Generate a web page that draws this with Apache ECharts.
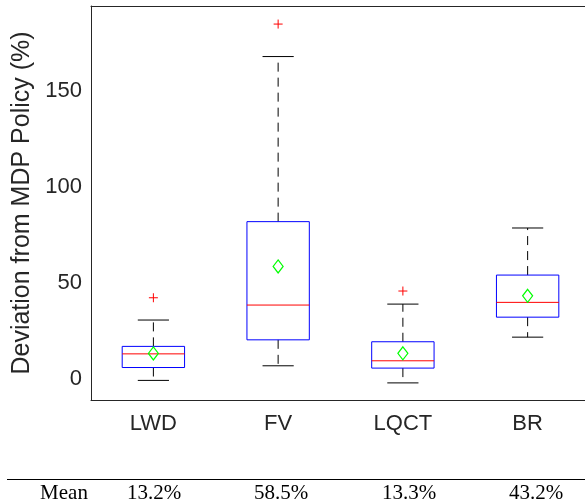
<!DOCTYPE html>
<html>
<head>
<meta charset="utf-8">
<script src="https://cdn.jsdelivr.net/npm/echarts@6/dist/echarts.min.js"></script>
<style>html,body{margin:0;padding:0;background:#fff;}#c{width:585px;height:503px;}</style>
</head>
<body>
<div id="c"></div>
<script>
const categories = ['LWD', 'FV', 'LQCT', 'BR'];
const whiskerLow = [-0.8, 6.8, -2.1, 21.7];
const q1 = [5.9, 20.3, 5.6, 32.1];
const median = [13.0, 38.4, 9.4, 39.8];
const q3 = [16.9, 81.8, 19.3, 54.0];
const whiskerHigh = [30.6, 167.7, 38.9, 78.5];
const means = [13.2, 58.5, 13.3, 43.2];
const outliers = [[0, 42.2], [1, 184.6], [2, 45.7]];
const yTicks = [0, 50, 100, 150];
const tableLabel = 'Mean';
const tableValues = ['13.2%', '58.5%', '13.3%', '43.2%'];

const axisColor = '#262626';
const boxData = categories.map((c, i) => [i, whiskerLow[i], q1[i], median[i], q3[i], whiskerHigh[i]]);
const meanData = categories.map((c, i) => [i, means[i]]);

const chart = echarts.init(document.getElementById('c'), null, {renderer: 'canvas'});

function boxRender(params, api) {
  const i = api.value(0);
  const band = api.size([1, 0])[0];
  const hw = band * 0.25, cw = band * 0.125;
  const lo = api.coord([i, api.value(1)]);
  const b1 = api.coord([i, api.value(2)]);
  const md = api.coord([i, api.value(3)]);
  const b3 = api.coord([i, api.value(4)]);
  const hi = api.coord([i, api.value(5)]);
  const cx = lo[0];
  const dash = {stroke: '#000', lineWidth: 1, lineDash: [9, 6]};
  const solid = {stroke: '#000', lineWidth: 1};
  return {
    type: 'group',
    children: [
      {type: 'line', shape: {x1: cx, y1: b3[1], x2: cx, y2: hi[1]}, style: dash},
      {type: 'line', shape: {x1: cx, y1: b1[1], x2: cx, y2: lo[1]}, style: dash},
      {type: 'line', shape: {x1: cx - cw, y1: hi[1], x2: cx + cw, y2: hi[1]}, style: solid},
      {type: 'line', shape: {x1: cx - cw, y1: lo[1], x2: cx + cw, y2: lo[1]}, style: solid},
      {type: 'rect', shape: {x: cx - hw, y: b3[1], width: 2 * hw, height: b1[1] - b3[1]},
        style: {fill: 'none', stroke: '#0000ff', lineWidth: 1}},
      {type: 'line', shape: {x1: cx - hw, y1: md[1], x2: cx + hw, y2: md[1]},
        style: {stroke: '#ff0000', lineWidth: 1}}
    ]
  };
}

function meanRender(params, api) {
  const p = api.coord([api.value(0), api.value(1)]);
  const w = 5, h = 6.5;
  return {
    type: 'polygon',
    shape: {points: [[p[0], p[1] - h], [p[0] + w, p[1]], [p[0], p[1] + h], [p[0] - w, p[1]]]},
    style: {fill: 'none', stroke: '#00ff00', lineWidth: 1.2}
  };
}

function outlierRender(params, api) {
  const p = api.coord([api.value(0), api.value(1)]);
  const s = 4.5;
  return {
    type: 'group',
    children: [
      {type: 'line', shape: {x1: p[0] - s, y1: p[1], x2: p[0] + s, y2: p[1]}, style: {stroke: '#ff0000', lineWidth: 1}},
      {type: 'line', shape: {x1: p[0], y1: p[1] - s, x2: p[0], y2: p[1] + s}, style: {stroke: '#ff0000', lineWidth: 1}}
    ]
  };
}

const tickStyle = {inside: true, length: 5, lineStyle: {color: axisColor, width: 1}};

const graphics = [
  {type: 'line', shape: {x1: 7, y1: 479.5, x2: 585, y2: 479.5}, style: {stroke: '#000', lineWidth: 1}}
];
const tableX = [64, 154, 281, 409, 536];
[tableLabel].concat(tableValues).forEach((t, k) => {
  graphics.push({type: 'text', x: tableX[k], y: 493,
    style: {text: t, fill: '#000', font: '21px "Liberation Serif"', align: 'center', verticalAlign: 'middle'}});
});

chart.setOption({
  animation: false,
  backgroundColor: '#fff',
  grid: {left: 91, top: 6, width: 499, height: 394, containLabel: false, outerBoundsMode: 'none'},
  xAxis: [
    {type: 'category', data: categories, position: 'bottom', boundaryGap: true,
      axisLine: {onZero: false, lineStyle: {color: axisColor, width: 1}},
      axisTick: Object.assign({alignWithLabel: true}, tickStyle),
      axisLabel: {color: axisColor, fontSize: 22, fontFamily: 'Liberation Sans', margin: 13},
      splitLine: {show: false}},
    {type: 'category', data: categories, position: 'top', boundaryGap: true,
      axisLine: {onZero: false, lineStyle: {color: axisColor, width: 1}},
      axisTick: Object.assign({alignWithLabel: true}, tickStyle),
      axisLabel: {show: false}, splitLine: {show: false}}
  ],
  yAxis: [
    {type: 'value', min: -11, max: 194, position: 'left',
      name: 'Deviation from MDP Policy (%)', nameLocation: 'middle', nameRotate: 90, nameGap: 50,
      nameTextStyle: {color: axisColor, fontSize: 25, fontFamily: 'Liberation Sans'},
      axisLine: {show: true, onZero: false, lineStyle: {color: axisColor, width: 1}},
      axisTick: Object.assign({customValues: yTicks}, tickStyle),
      axisLabel: {customValues: yTicks, color: axisColor, fontSize: 22, fontFamily: 'Liberation Sans', margin: 9, padding: [5, 0, 0, 0]},
      splitLine: {show: false}},
    {type: 'value', min: -11, max: 194, position: 'right',
      axisLine: {show: true, onZero: false, lineStyle: {color: axisColor, width: 1}},
      axisTick: Object.assign({customValues: yTicks}, tickStyle),
      axisLabel: {show: false}, splitLine: {show: false}}
  ],
  series: [
    {type: 'custom', renderItem: boxRender, data: boxData, xAxisIndex: 0, yAxisIndex: 0,
      encode: {x: 0, y: [1, 2, 3, 4, 5]}, silent: true},
    {type: 'custom', renderItem: meanRender, data: meanData, xAxisIndex: 0, yAxisIndex: 0,
      encode: {x: 0, y: 1}, silent: true, z: 3},
    {type: 'custom', renderItem: outlierRender, data: outliers, xAxisIndex: 0, yAxisIndex: 0,
      encode: {x: 0, y: 1}, silent: true, z: 3}
  ],
  graphic: graphics
});
</script>
</body>
</html>
